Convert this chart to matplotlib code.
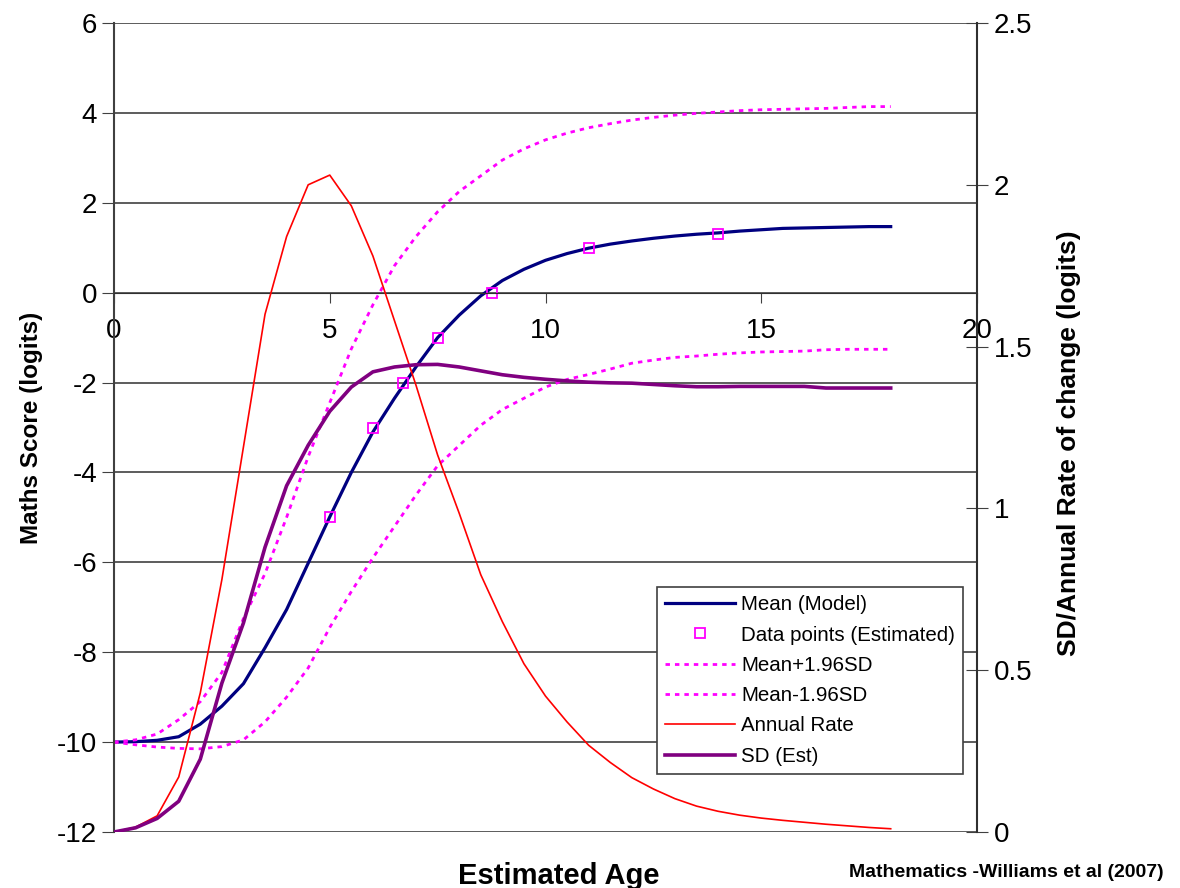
import matplotlib
matplotlib.use("Agg")
import matplotlib.pyplot as plt
import numpy as np

plt.rcParams['font.family'] = ['Liberation Sans', 'DejaVu Sans']
plt.rcParams['axes.unicode_minus'] = False

# ages (years) at which the curves are sampled
age = np.arange(0, 18.5, 0.5)

# mean model (left axis, logits)
mean_model = [-10, -9.99, -9.96, -9.88, -9.6, -9.2, -8.7, -7.9, -7.05, -6.02,
              -4.99, -4.0, -3.1, -2.35, -1.65, -1.0, -0.5, -0.07, 0.27, 0.52,
              0.72, 0.87, 0.99, 1.08, 1.15, 1.21, 1.26, 1.3, 1.33, 1.37,
              1.40, 1.43, 1.44, 1.45, 1.46, 1.47, 1.47]
mean_plus = [-10, -9.95, -9.82, -9.5, -9.1, -8.45, -7.25, -6.25, -5.0, -3.65,
             -2.45, -1.25, -0.27, 0.6, 1.25, 1.8, 2.25, 2.6, 2.95, 3.2,
             3.4, 3.55, 3.67, 3.76, 3.84, 3.9, 3.95, 3.99, 4.02, 4.05,
             4.07, 4.08, 4.09, 4.1, 4.12, 4.14, 4.14]
mean_minus = [-10, -10.06, -10.11, -10.14, -10.15, -10.1, -9.95, -9.55, -9.0, -8.35,
              -7.45, -6.65, -5.9, -5.2, -4.5, -3.85, -3.4, -2.95, -2.6, -2.35,
              -2.1, -1.93, -1.82, -1.7, -1.57, -1.5, -1.44, -1.41, -1.37, -1.34,
              -1.32, -1.31, -1.3, -1.27, -1.26, -1.26, -1.26]

# right axis series
annual_rate = [0, 0.015, 0.05, 0.17, 0.43, 0.78, 1.19, 1.6, 1.84, 2.0,
               2.03, 1.935, 1.78, 1.58, 1.38, 1.165, 0.985, 0.795, 0.65, 0.52,
               0.42, 0.34, 0.268, 0.215, 0.168, 0.133, 0.103, 0.08, 0.064, 0.052,
               0.043, 0.036, 0.03, 0.024, 0.019, 0.014, 0.01]
sd_est = [0, 0.013, 0.042, 0.095, 0.225, 0.46, 0.646, 0.88, 1.07, 1.195,
          1.3, 1.375, 1.422, 1.437, 1.444, 1.445, 1.437, 1.425, 1.413, 1.405,
          1.399, 1.394, 1.39, 1.388, 1.387, 1.383, 1.379, 1.376, 1.376, 1.377,
          1.377, 1.377, 1.377, 1.372, 1.372, 1.372, 1.372]

# estimated data points
pts_age = [5, 6, 6.7, 7.5, 8.75, 11, 14]
pts_score = [-5, -3, -2, -1, 0, 1, 1.3]

W, H = 1180, 888
fig = plt.figure(figsize=(W / 100, H / 100), dpi=100)
ax = fig.add_axes([114 / W, 1 - 832 / H, (977 - 114) / W, (832 - 23) / H])
ax2 = ax.twinx()

ax.set_xlim(0, 20)
ax.set_ylim(-12, 6)
ax2.set_ylim(0, 2.5)

ax.set_xticks([0, 5, 10, 15, 20])
ax.set_yticks(np.arange(-12, 7, 2))
ax2.set_yticks([0, 0.5, 1, 1.5, 2, 2.5])
ax2.set_yticklabels(['0', '0.5', '1', '1.5', '2', '2.5'])

ax.yaxis.grid(True, color='#303030', lw=1.1)
ax.set_axisbelow(True)

ax.spines['bottom'].set_position(('data', 0))
ax.spines['bottom'].set_color('#303030')
ax.spines['left'].set_color('#404040')
ax.spines['left'].set_linewidth(1.5)
ax.spines['top'].set_visible(False)
ax.spines['right'].set_visible(False)
for s in ['top', 'left', 'bottom']:
    ax2.spines[s].set_visible(False)
ax2.spines['right'].set_color('#303030')
ax2.spines['right'].set_linewidth(1.5)

ax.tick_params(axis='y', direction='out', length=9, pad=3, labelsize=20, color='#404040')
ax.tick_params(axis='x', direction='out', length=7, pad=11, labelsize=20, color='#404040')
ax2.tick_params(axis='y', direction='inout', length=16, pad=4, labelsize=20, color='#404040')

# curves
l_mean, = ax.plot(age, mean_model, color='#000080', lw=2.3, label='Mean (Model)')
l_pts, = ax.plot(pts_age, pts_score, ls='none', marker='s', ms=7, mfc='none',
                 mec='#FF00FF', mew=1.3, label='Data points (Estimated)')
l_plus, = ax.plot(age, mean_plus, color='#FF00FF', lw=2, ls=(0, (1.6, 1.8)),
                  label='Mean+1.96SD')
l_minus, = ax.plot(age, mean_minus, color='#FF00FF', lw=2, ls=(0, (1.6, 1.8)),
                   label='Mean-1.96SD')
l_rate, = ax2.plot(age, annual_rate, color='#FF0000', lw=1.2, label='Annual Rate')
l_sd, = ax2.plot(age, sd_est, color='#800080', lw=2.6, label='SD (Est)')

handles = [l_mean, l_pts, l_plus, l_minus, l_rate, l_sd]
leg = ax2.legend(handles=handles, loc='lower left', bbox_to_anchor=(0.629, 0.0717),
                 fontsize=14.8, frameon=True, fancybox=False, framealpha=1,
                 edgecolor='#404040', handlelength=3.4, handletextpad=0.3,
                 labelspacing=0.55, borderpad=0.4, borderaxespad=0)
leg.get_frame().set_linewidth(1.2)

ax.set_ylabel('Maths Score (logits)', fontsize=17.5, fontweight='bold')
ax.yaxis.set_label_coords(-0.082, 0.5)
ax2.set_ylabel('SD/Annual Rate of change (logits)', fontsize=19, fontweight='bold')
ax2.yaxis.set_label_coords(1.093, 0.48)

fig.text(559 / W, 1 - 876 / H, 'Estimated Age', fontsize=21, fontweight='bold',
         ha='center', va='center')
fig.text(1006 / W, 1 - 872 / H, 'Mathematics -Williams et al (2007)', fontsize=14,
         fontweight='bold', ha='center', va='center')

fig.savefig('out.png', dpi=100)
